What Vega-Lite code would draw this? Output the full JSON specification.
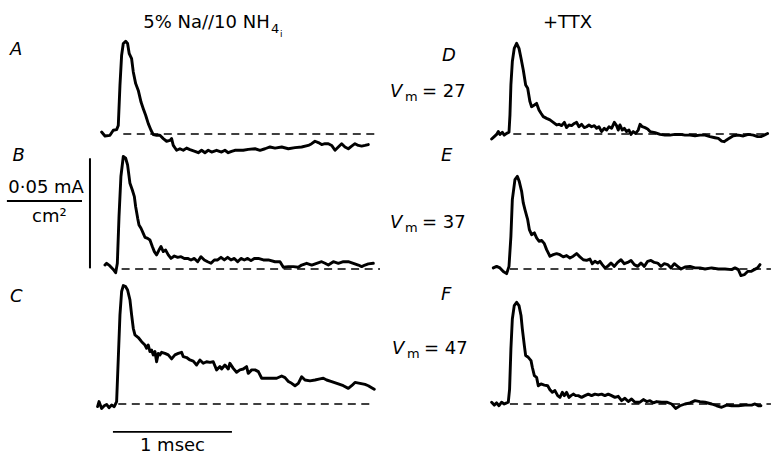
{
  "$schema": "https://vega.github.io/schema/vega-lite/v6.json",
  "background": "white",
  "padding": {"left": 0, "top": 2.8, "right": 0, "bottom": 12},
  "bounds": "flush",
  "config": {"view": {"stroke": null}, "font": "DejaVu Sans"},
  "datasets": {
    "panels": [
      {"panel": "A", "side": "left", "level": 1},
      {"panel": "B", "side": "left", "level": 2},
      {"panel": "C", "side": "left", "level": 3},
      {"panel": "D", "side": "right", "level": 1},
      {"panel": "E", "side": "right", "level": 2},
      {"panel": "F", "side": "right", "level": 3}
    ],
    "records": [
      {"kind": "trace", "panel": "A", "t": 0.014, "i": 0.0009},
      {"kind": "trace", "panel": "A", "t": 0.042, "i": -0.0009},
      {"kind": "trace", "panel": "A", "t": 0.084, "i": -0.0006},
      {"kind": "trace", "panel": "A", "t": 0.112, "i": 0.0017},
      {"kind": "trace", "panel": "A", "t": 0.140, "i": 0.0020},
      {"kind": "trace", "panel": "A", "t": 0.154, "i": 0.0039},
      {"kind": "trace", "panel": "A", "t": 0.168, "i": 0.0221},
      {"kind": "trace", "panel": "A", "t": 0.182, "i": 0.0358},
      {"kind": "trace", "panel": "A", "t": 0.196, "i": 0.0411},
      {"kind": "trace", "panel": "A", "t": 0.216, "i": 0.0421},
      {"kind": "trace", "panel": "A", "t": 0.232, "i": 0.0411},
      {"kind": "trace", "panel": "A", "t": 0.246, "i": 0.0365},
      {"kind": "trace", "panel": "A", "t": 0.266, "i": 0.0342},
      {"kind": "trace", "panel": "A", "t": 0.280, "i": 0.0282},
      {"kind": "trace", "panel": "A", "t": 0.300, "i": 0.0229},
      {"kind": "trace", "panel": "A", "t": 0.322, "i": 0.0198},
      {"kind": "trace", "panel": "A", "t": 0.345, "i": 0.0145},
      {"kind": "trace", "panel": "A", "t": 0.364, "i": 0.0115},
      {"kind": "trace", "panel": "A", "t": 0.384, "i": 0.0085},
      {"kind": "trace", "panel": "A", "t": 0.406, "i": 0.0047},
      {"kind": "trace", "panel": "A", "t": 0.429, "i": 0.0017},
      {"kind": "trace", "panel": "A", "t": 0.448, "i": -0.0003},
      {"kind": "trace", "panel": "A", "t": 0.476, "i": -0.0006},
      {"kind": "trace", "panel": "A", "t": 0.504, "i": -0.0006},
      {"kind": "trace", "panel": "A", "t": 0.532, "i": -0.0021},
      {"kind": "trace", "panel": "A", "t": 0.560, "i": -0.0033},
      {"kind": "trace", "panel": "A", "t": 0.588, "i": -0.0029},
      {"kind": "trace", "panel": "A", "t": 0.602, "i": -0.0021},
      {"kind": "trace", "panel": "A", "t": 0.616, "i": -0.0052},
      {"kind": "trace", "panel": "A", "t": 0.644, "i": -0.0074},
      {"kind": "trace", "panel": "A", "t": 0.672, "i": -0.0067},
      {"kind": "trace", "panel": "A", "t": 0.700, "i": -0.0074},
      {"kind": "trace", "panel": "A", "t": 0.728, "i": -0.0064},
      {"kind": "trace", "panel": "A", "t": 0.756, "i": -0.0071},
      {"kind": "trace", "panel": "A", "t": 0.798, "i": -0.0079},
      {"kind": "trace", "panel": "A", "t": 0.826, "i": -0.0085},
      {"kind": "trace", "panel": "A", "t": 0.854, "i": -0.0074},
      {"kind": "trace", "panel": "A", "t": 0.882, "i": -0.0085},
      {"kind": "trace", "panel": "A", "t": 0.910, "i": -0.0074},
      {"kind": "trace", "panel": "A", "t": 0.938, "i": -0.0082},
      {"kind": "trace", "panel": "A", "t": 0.980, "i": -0.0074},
      {"kind": "trace", "panel": "A", "t": 1.022, "i": -0.0082},
      {"kind": "trace", "panel": "A", "t": 1.050, "i": -0.0074},
      {"kind": "trace", "panel": "A", "t": 1.078, "i": -0.0085},
      {"kind": "trace", "panel": "A", "t": 1.106, "i": -0.0079},
      {"kind": "trace", "panel": "A", "t": 1.134, "i": -0.0074},
      {"kind": "trace", "panel": "A", "t": 1.204, "i": -0.0074},
      {"kind": "trace", "panel": "A", "t": 1.246, "i": -0.0070},
      {"kind": "trace", "panel": "A", "t": 1.303, "i": -0.0067},
      {"kind": "trace", "panel": "A", "t": 1.345, "i": -0.0074},
      {"kind": "trace", "panel": "A", "t": 1.387, "i": -0.0067},
      {"kind": "trace", "panel": "A", "t": 1.429, "i": -0.0059},
      {"kind": "trace", "panel": "A", "t": 1.471, "i": -0.0064},
      {"kind": "trace", "panel": "A", "t": 1.527, "i": -0.0059},
      {"kind": "trace", "panel": "A", "t": 1.583, "i": -0.0067},
      {"kind": "trace", "panel": "A", "t": 1.639, "i": -0.0062},
      {"kind": "trace", "panel": "A", "t": 1.695, "i": -0.0059},
      {"kind": "trace", "panel": "A", "t": 1.751, "i": -0.0052},
      {"kind": "trace", "panel": "A", "t": 1.779, "i": -0.0044},
      {"kind": "trace", "panel": "A", "t": 1.807, "i": -0.0033},
      {"kind": "trace", "panel": "A", "t": 1.835, "i": -0.0039},
      {"kind": "trace", "panel": "A", "t": 1.863, "i": -0.0048},
      {"kind": "trace", "panel": "A", "t": 1.891, "i": -0.0044},
      {"kind": "trace", "panel": "A", "t": 1.919, "i": -0.0044},
      {"kind": "trace", "panel": "A", "t": 1.947, "i": -0.0052},
      {"kind": "trace", "panel": "A", "t": 1.975, "i": -0.0074},
      {"kind": "trace", "panel": "A", "t": 2.003, "i": -0.0059},
      {"kind": "trace", "panel": "A", "t": 2.031, "i": -0.0044},
      {"kind": "trace", "panel": "A", "t": 2.059, "i": -0.0059},
      {"kind": "trace", "panel": "A", "t": 2.087, "i": -0.0067},
      {"kind": "trace", "panel": "A", "t": 2.115, "i": -0.0055},
      {"kind": "trace", "panel": "A", "t": 2.143, "i": -0.0044},
      {"kind": "trace", "panel": "A", "t": 2.171, "i": -0.0052},
      {"kind": "trace", "panel": "A", "t": 2.199, "i": -0.0055},
      {"kind": "trace", "panel": "A", "t": 2.227, "i": -0.0052},
      {"kind": "trace", "panel": "A", "t": 2.255, "i": -0.0048},

      {"kind": "trace", "panel": "B", "t": 0.042, "i": 0.0018},
      {"kind": "trace", "panel": "B", "t": 0.056, "i": 0.0026},
      {"kind": "trace", "panel": "B", "t": 0.084, "i": 0.0014},
      {"kind": "trace", "panel": "B", "t": 0.112, "i": -0.0002},
      {"kind": "trace", "panel": "B", "t": 0.132, "i": -0.0017},
      {"kind": "trace", "panel": "B", "t": 0.146, "i": 0.0026},
      {"kind": "trace", "panel": "B", "t": 0.160, "i": 0.0238},
      {"kind": "trace", "panel": "B", "t": 0.176, "i": 0.0420},
      {"kind": "trace", "panel": "B", "t": 0.196, "i": 0.0511},
      {"kind": "trace", "panel": "B", "t": 0.216, "i": 0.0503},
      {"kind": "trace", "panel": "B", "t": 0.232, "i": 0.0473},
      {"kind": "trace", "panel": "B", "t": 0.252, "i": 0.0389},
      {"kind": "trace", "panel": "B", "t": 0.272, "i": 0.0359},
      {"kind": "trace", "panel": "B", "t": 0.289, "i": 0.0329},
      {"kind": "trace", "panel": "B", "t": 0.300, "i": 0.0283},
      {"kind": "trace", "panel": "B", "t": 0.317, "i": 0.0230},
      {"kind": "trace", "panel": "B", "t": 0.328, "i": 0.0200},
      {"kind": "trace", "panel": "B", "t": 0.345, "i": 0.0185},
      {"kind": "trace", "panel": "B", "t": 0.364, "i": 0.0162},
      {"kind": "trace", "panel": "B", "t": 0.378, "i": 0.0144},
      {"kind": "trace", "panel": "B", "t": 0.401, "i": 0.0139},
      {"kind": "trace", "panel": "B", "t": 0.420, "i": 0.0132},
      {"kind": "trace", "panel": "B", "t": 0.440, "i": 0.0102},
      {"kind": "trace", "panel": "B", "t": 0.457, "i": 0.0079},
      {"kind": "trace", "panel": "B", "t": 0.476, "i": 0.0064},
      {"kind": "trace", "panel": "B", "t": 0.496, "i": 0.0086},
      {"kind": "trace", "panel": "B", "t": 0.513, "i": 0.0102},
      {"kind": "trace", "panel": "B", "t": 0.532, "i": 0.0079},
      {"kind": "trace", "panel": "B", "t": 0.552, "i": 0.0086},
      {"kind": "trace", "panel": "B", "t": 0.574, "i": 0.0064},
      {"kind": "trace", "panel": "B", "t": 0.597, "i": 0.0048},
      {"kind": "trace", "panel": "B", "t": 0.625, "i": 0.0059},
      {"kind": "trace", "panel": "B", "t": 0.653, "i": 0.0053},
      {"kind": "trace", "panel": "B", "t": 0.681, "i": 0.0056},
      {"kind": "trace", "panel": "B", "t": 0.709, "i": 0.0048},
      {"kind": "trace", "panel": "B", "t": 0.737, "i": 0.0048},
      {"kind": "trace", "panel": "B", "t": 0.765, "i": 0.0041},
      {"kind": "trace", "panel": "B", "t": 0.793, "i": 0.0048},
      {"kind": "trace", "panel": "B", "t": 0.821, "i": 0.0033},
      {"kind": "trace", "panel": "B", "t": 0.849, "i": 0.0056},
      {"kind": "trace", "panel": "B", "t": 0.877, "i": 0.0041},
      {"kind": "trace", "panel": "B", "t": 0.905, "i": 0.0033},
      {"kind": "trace", "panel": "B", "t": 0.933, "i": 0.0026},
      {"kind": "trace", "panel": "B", "t": 0.961, "i": 0.0041},
      {"kind": "trace", "panel": "B", "t": 0.989, "i": 0.0041},
      {"kind": "trace", "panel": "B", "t": 1.017, "i": 0.0053},
      {"kind": "trace", "panel": "B", "t": 1.045, "i": 0.0041},
      {"kind": "trace", "panel": "B", "t": 1.073, "i": 0.0053},
      {"kind": "trace", "panel": "B", "t": 1.101, "i": 0.0041},
      {"kind": "trace", "panel": "B", "t": 1.129, "i": 0.0048},
      {"kind": "trace", "panel": "B", "t": 1.157, "i": 0.0033},
      {"kind": "trace", "panel": "B", "t": 1.185, "i": 0.0048},
      {"kind": "trace", "panel": "B", "t": 1.213, "i": 0.0041},
      {"kind": "trace", "panel": "B", "t": 1.241, "i": 0.0048},
      {"kind": "trace", "panel": "B", "t": 1.269, "i": 0.0038},
      {"kind": "trace", "panel": "B", "t": 1.297, "i": 0.0048},
      {"kind": "trace", "panel": "B", "t": 1.331, "i": 0.0048},
      {"kind": "trace", "panel": "B", "t": 1.373, "i": 0.0041},
      {"kind": "trace", "panel": "B", "t": 1.415, "i": 0.0041},
      {"kind": "trace", "panel": "B", "t": 1.471, "i": 0.0033},
      {"kind": "trace", "panel": "B", "t": 1.513, "i": 0.0033},
      {"kind": "trace", "panel": "B", "t": 1.541, "i": 0.0008},
      {"kind": "trace", "panel": "B", "t": 1.583, "i": 0.0011},
      {"kind": "trace", "panel": "B", "t": 1.625, "i": 0.0011},
      {"kind": "trace", "panel": "B", "t": 1.667, "i": 0.0008},
      {"kind": "trace", "panel": "B", "t": 1.695, "i": 0.0018},
      {"kind": "trace", "panel": "B", "t": 1.737, "i": 0.0026},
      {"kind": "trace", "panel": "B", "t": 1.779, "i": 0.0018},
      {"kind": "trace", "panel": "B", "t": 1.821, "i": 0.0026},
      {"kind": "trace", "panel": "B", "t": 1.863, "i": 0.0033},
      {"kind": "trace", "panel": "B", "t": 1.891, "i": 0.0026},
      {"kind": "trace", "panel": "B", "t": 1.919, "i": 0.0018},
      {"kind": "trace", "panel": "B", "t": 1.961, "i": 0.0033},
      {"kind": "trace", "panel": "B", "t": 2.003, "i": 0.0026},
      {"kind": "trace", "panel": "B", "t": 2.045, "i": 0.0033},
      {"kind": "trace", "panel": "B", "t": 2.087, "i": 0.0033},
      {"kind": "trace", "panel": "B", "t": 2.129, "i": 0.0026},
      {"kind": "trace", "panel": "B", "t": 2.171, "i": 0.0018},
      {"kind": "trace", "panel": "B", "t": 2.199, "i": 0.0011},
      {"kind": "trace", "panel": "B", "t": 2.227, "i": 0.0018},
      {"kind": "trace", "panel": "B", "t": 2.255, "i": 0.0023},
      {"kind": "trace", "panel": "B", "t": 2.297, "i": 0.0026},

      {"kind": "trace", "panel": "C", "t": -0.020, "i": -0.0012},
      {"kind": "trace", "panel": "C", "t": -0.008, "i": 0.0011},
      {"kind": "trace", "panel": "C", "t": 0.014, "i": -0.0020},
      {"kind": "trace", "panel": "C", "t": 0.036, "i": -0.0008},
      {"kind": "trace", "panel": "C", "t": 0.056, "i": -0.0002},
      {"kind": "trace", "panel": "C", "t": 0.076, "i": -0.0017},
      {"kind": "trace", "panel": "C", "t": 0.098, "i": -0.0005},
      {"kind": "trace", "panel": "C", "t": 0.120, "i": -0.0012},
      {"kind": "trace", "panel": "C", "t": 0.140, "i": 0.0011},
      {"kind": "trace", "panel": "C", "t": 0.154, "i": 0.0208},
      {"kind": "trace", "panel": "C", "t": 0.168, "i": 0.0405},
      {"kind": "trace", "panel": "C", "t": 0.182, "i": 0.0511},
      {"kind": "trace", "panel": "C", "t": 0.196, "i": 0.0538},
      {"kind": "trace", "panel": "C", "t": 0.216, "i": 0.0533},
      {"kind": "trace", "panel": "C", "t": 0.232, "i": 0.0518},
      {"kind": "trace", "panel": "C", "t": 0.252, "i": 0.0473},
      {"kind": "trace", "panel": "C", "t": 0.266, "i": 0.0405},
      {"kind": "trace", "panel": "C", "t": 0.280, "i": 0.0344},
      {"kind": "trace", "panel": "C", "t": 0.294, "i": 0.0314},
      {"kind": "trace", "panel": "C", "t": 0.322, "i": 0.0302},
      {"kind": "trace", "panel": "C", "t": 0.350, "i": 0.0283},
      {"kind": "trace", "panel": "C", "t": 0.378, "i": 0.0268},
      {"kind": "trace", "panel": "C", "t": 0.392, "i": 0.0253},
      {"kind": "trace", "panel": "C", "t": 0.406, "i": 0.0268},
      {"kind": "trace", "panel": "C", "t": 0.420, "i": 0.0238},
      {"kind": "trace", "panel": "C", "t": 0.434, "i": 0.0245},
      {"kind": "trace", "panel": "C", "t": 0.448, "i": 0.0223},
      {"kind": "trace", "panel": "C", "t": 0.462, "i": 0.0238},
      {"kind": "trace", "panel": "C", "t": 0.476, "i": 0.0192},
      {"kind": "trace", "panel": "C", "t": 0.490, "i": 0.0230},
      {"kind": "trace", "panel": "C", "t": 0.504, "i": 0.0223},
      {"kind": "trace", "panel": "C", "t": 0.518, "i": 0.0235},
      {"kind": "trace", "panel": "C", "t": 0.546, "i": 0.0230},
      {"kind": "trace", "panel": "C", "t": 0.574, "i": 0.0223},
      {"kind": "trace", "panel": "C", "t": 0.602, "i": 0.0205},
      {"kind": "trace", "panel": "C", "t": 0.630, "i": 0.0223},
      {"kind": "trace", "panel": "C", "t": 0.658, "i": 0.0230},
      {"kind": "trace", "panel": "C", "t": 0.686, "i": 0.0235},
      {"kind": "trace", "panel": "C", "t": 0.700, "i": 0.0215},
      {"kind": "trace", "panel": "C", "t": 0.728, "i": 0.0211},
      {"kind": "trace", "panel": "C", "t": 0.756, "i": 0.0200},
      {"kind": "trace", "panel": "C", "t": 0.784, "i": 0.0195},
      {"kind": "trace", "panel": "C", "t": 0.812, "i": 0.0177},
      {"kind": "trace", "panel": "C", "t": 0.840, "i": 0.0200},
      {"kind": "trace", "panel": "C", "t": 0.868, "i": 0.0185},
      {"kind": "trace", "panel": "C", "t": 0.896, "i": 0.0192},
      {"kind": "trace", "panel": "C", "t": 0.924, "i": 0.0189},
      {"kind": "trace", "panel": "C", "t": 0.952, "i": 0.0192},
      {"kind": "trace", "panel": "C", "t": 0.980, "i": 0.0155},
      {"kind": "trace", "panel": "C", "t": 1.008, "i": 0.0170},
      {"kind": "trace", "panel": "C", "t": 1.022, "i": 0.0159},
      {"kind": "trace", "panel": "C", "t": 1.050, "i": 0.0177},
      {"kind": "trace", "panel": "C", "t": 1.078, "i": 0.0159},
      {"kind": "trace", "panel": "C", "t": 1.092, "i": 0.0185},
      {"kind": "trace", "panel": "C", "t": 1.120, "i": 0.0162},
      {"kind": "trace", "panel": "C", "t": 1.148, "i": 0.0144},
      {"kind": "trace", "panel": "C", "t": 1.176, "i": 0.0155},
      {"kind": "trace", "panel": "C", "t": 1.204, "i": 0.0159},
      {"kind": "trace", "panel": "C", "t": 1.232, "i": 0.0170},
      {"kind": "trace", "panel": "C", "t": 1.246, "i": 0.0139},
      {"kind": "trace", "panel": "C", "t": 1.275, "i": 0.0155},
      {"kind": "trace", "panel": "C", "t": 1.303, "i": 0.0155},
      {"kind": "trace", "panel": "C", "t": 1.331, "i": 0.0147},
      {"kind": "trace", "panel": "C", "t": 1.359, "i": 0.0117},
      {"kind": "trace", "panel": "C", "t": 1.401, "i": 0.0117},
      {"kind": "trace", "panel": "C", "t": 1.443, "i": 0.0117},
      {"kind": "trace", "panel": "C", "t": 1.485, "i": 0.0117},
      {"kind": "trace", "panel": "C", "t": 1.527, "i": 0.0127},
      {"kind": "trace", "panel": "C", "t": 1.555, "i": 0.0120},
      {"kind": "trace", "panel": "C", "t": 1.583, "i": 0.0102},
      {"kind": "trace", "panel": "C", "t": 1.611, "i": 0.0094},
      {"kind": "trace", "panel": "C", "t": 1.639, "i": 0.0083},
      {"kind": "trace", "panel": "C", "t": 1.667, "i": 0.0094},
      {"kind": "trace", "panel": "C", "t": 1.695, "i": 0.0124},
      {"kind": "trace", "panel": "C", "t": 1.723, "i": 0.0109},
      {"kind": "trace", "panel": "C", "t": 1.765, "i": 0.0105},
      {"kind": "trace", "panel": "C", "t": 1.807, "i": 0.0109},
      {"kind": "trace", "panel": "C", "t": 1.849, "i": 0.0114},
      {"kind": "trace", "panel": "C", "t": 1.877, "i": 0.0117},
      {"kind": "trace", "panel": "C", "t": 1.905, "i": 0.0109},
      {"kind": "trace", "panel": "C", "t": 1.947, "i": 0.0102},
      {"kind": "trace", "panel": "C", "t": 2.003, "i": 0.0091},
      {"kind": "trace", "panel": "C", "t": 2.045, "i": 0.0083},
      {"kind": "trace", "panel": "C", "t": 2.087, "i": 0.0071},
      {"kind": "trace", "panel": "C", "t": 2.115, "i": 0.0083},
      {"kind": "trace", "panel": "C", "t": 2.143, "i": 0.0098},
      {"kind": "trace", "panel": "C", "t": 2.185, "i": 0.0094},
      {"kind": "trace", "panel": "C", "t": 2.227, "i": 0.0089},
      {"kind": "trace", "panel": "C", "t": 2.255, "i": 0.0083},
      {"kind": "trace", "panel": "C", "t": 2.283, "i": 0.0074},
      {"kind": "trace", "panel": "C", "t": 2.305, "i": 0.0067},

      {"kind": "trace", "panel": "D", "t": 0.014, "i": -0.0023},
      {"kind": "trace", "panel": "D", "t": 0.036, "i": -0.0012},
      {"kind": "trace", "panel": "D", "t": 0.056, "i": -0.0002},
      {"kind": "trace", "panel": "D", "t": 0.070, "i": 0.0011},
      {"kind": "trace", "panel": "D", "t": 0.084, "i": -0.0002},
      {"kind": "trace", "panel": "D", "t": 0.104, "i": 0.0008},
      {"kind": "trace", "panel": "D", "t": 0.120, "i": -0.0005},
      {"kind": "trace", "panel": "D", "t": 0.140, "i": 0.0003},
      {"kind": "trace", "panel": "D", "t": 0.160, "i": 0.0008},
      {"kind": "trace", "panel": "D", "t": 0.168, "i": 0.0086},
      {"kind": "trace", "panel": "D", "t": 0.176, "i": 0.0223},
      {"kind": "trace", "panel": "D", "t": 0.188, "i": 0.0329},
      {"kind": "trace", "panel": "D", "t": 0.204, "i": 0.0389},
      {"kind": "trace", "panel": "D", "t": 0.224, "i": 0.0412},
      {"kind": "trace", "panel": "D", "t": 0.244, "i": 0.0389},
      {"kind": "trace", "panel": "D", "t": 0.261, "i": 0.0344},
      {"kind": "trace", "panel": "D", "t": 0.280, "i": 0.0291},
      {"kind": "trace", "panel": "D", "t": 0.300, "i": 0.0223},
      {"kind": "trace", "panel": "D", "t": 0.317, "i": 0.0208},
      {"kind": "trace", "panel": "D", "t": 0.336, "i": 0.0147},
      {"kind": "trace", "panel": "D", "t": 0.350, "i": 0.0124},
      {"kind": "trace", "panel": "D", "t": 0.373, "i": 0.0132},
      {"kind": "trace", "panel": "D", "t": 0.392, "i": 0.0139},
      {"kind": "trace", "panel": "D", "t": 0.412, "i": 0.0109},
      {"kind": "trace", "panel": "D", "t": 0.429, "i": 0.0094},
      {"kind": "trace", "panel": "D", "t": 0.448, "i": 0.0079},
      {"kind": "trace", "panel": "D", "t": 0.476, "i": 0.0071},
      {"kind": "trace", "panel": "D", "t": 0.504, "i": 0.0064},
      {"kind": "trace", "panel": "D", "t": 0.532, "i": 0.0053},
      {"kind": "trace", "panel": "D", "t": 0.560, "i": 0.0041},
      {"kind": "trace", "panel": "D", "t": 0.580, "i": 0.0044},
      {"kind": "trace", "panel": "D", "t": 0.602, "i": 0.0038},
      {"kind": "trace", "panel": "D", "t": 0.625, "i": 0.0053},
      {"kind": "trace", "panel": "D", "t": 0.644, "i": 0.0029},
      {"kind": "trace", "panel": "D", "t": 0.664, "i": 0.0041},
      {"kind": "trace", "panel": "D", "t": 0.686, "i": 0.0038},
      {"kind": "trace", "panel": "D", "t": 0.709, "i": 0.0048},
      {"kind": "trace", "panel": "D", "t": 0.728, "i": 0.0053},
      {"kind": "trace", "panel": "D", "t": 0.748, "i": 0.0033},
      {"kind": "trace", "panel": "D", "t": 0.770, "i": 0.0044},
      {"kind": "trace", "panel": "D", "t": 0.793, "i": 0.0029},
      {"kind": "trace", "panel": "D", "t": 0.812, "i": 0.0033},
      {"kind": "trace", "panel": "D", "t": 0.832, "i": 0.0041},
      {"kind": "trace", "panel": "D", "t": 0.854, "i": 0.0033},
      {"kind": "trace", "panel": "D", "t": 0.877, "i": 0.0038},
      {"kind": "trace", "panel": "D", "t": 0.896, "i": 0.0026},
      {"kind": "trace", "panel": "D", "t": 0.916, "i": 0.0033},
      {"kind": "trace", "panel": "D", "t": 0.938, "i": 0.0011},
      {"kind": "trace", "panel": "D", "t": 0.961, "i": 0.0026},
      {"kind": "trace", "panel": "D", "t": 0.980, "i": 0.0018},
      {"kind": "trace", "panel": "D", "t": 1.000, "i": 0.0033},
      {"kind": "trace", "panel": "D", "t": 1.022, "i": 0.0026},
      {"kind": "trace", "panel": "D", "t": 1.045, "i": 0.0053},
      {"kind": "trace", "panel": "D", "t": 1.064, "i": 0.0038},
      {"kind": "trace", "panel": "D", "t": 1.078, "i": 0.0018},
      {"kind": "trace", "panel": "D", "t": 1.092, "i": 0.0041},
      {"kind": "trace", "panel": "D", "t": 1.112, "i": 0.0018},
      {"kind": "trace", "panel": "D", "t": 1.129, "i": 0.0026},
      {"kind": "trace", "panel": "D", "t": 1.148, "i": 0.0011},
      {"kind": "trace", "panel": "D", "t": 1.168, "i": 0.0018},
      {"kind": "trace", "panel": "D", "t": 1.185, "i": -0.0002},
      {"kind": "trace", "panel": "D", "t": 1.204, "i": 0.0011},
      {"kind": "trace", "panel": "D", "t": 1.224, "i": 0.0003},
      {"kind": "trace", "panel": "D", "t": 1.246, "i": 0.0018},
      {"kind": "trace", "panel": "D", "t": 1.261, "i": 0.0044},
      {"kind": "trace", "panel": "D", "t": 1.280, "i": 0.0033},
      {"kind": "trace", "panel": "D", "t": 1.303, "i": 0.0029},
      {"kind": "trace", "panel": "D", "t": 1.325, "i": 0.0023},
      {"kind": "trace", "panel": "D", "t": 1.345, "i": 0.0011},
      {"kind": "trace", "panel": "D", "t": 1.387, "i": 0.0006},
      {"kind": "trace", "panel": "D", "t": 1.429, "i": -0.0002},
      {"kind": "trace", "panel": "D", "t": 1.471, "i": -0.0005},
      {"kind": "trace", "panel": "D", "t": 1.513, "i": -0.0005},
      {"kind": "trace", "panel": "D", "t": 1.555, "i": -0.0002},
      {"kind": "trace", "panel": "D", "t": 1.597, "i": -0.0002},
      {"kind": "trace", "panel": "D", "t": 1.639, "i": -0.0005},
      {"kind": "trace", "panel": "D", "t": 1.681, "i": -0.0005},
      {"kind": "trace", "panel": "D", "t": 1.723, "i": -0.0008},
      {"kind": "trace", "panel": "D", "t": 1.765, "i": -0.0005},
      {"kind": "trace", "panel": "D", "t": 1.807, "i": -0.0005},
      {"kind": "trace", "panel": "D", "t": 1.849, "i": -0.0012},
      {"kind": "trace", "panel": "D", "t": 1.891, "i": -0.0017},
      {"kind": "trace", "panel": "D", "t": 1.919, "i": -0.0020},
      {"kind": "trace", "panel": "D", "t": 1.947, "i": -0.0032},
      {"kind": "trace", "panel": "D", "t": 1.969, "i": -0.0035},
      {"kind": "trace", "panel": "D", "t": 1.989, "i": -0.0027},
      {"kind": "trace", "panel": "D", "t": 2.008, "i": -0.0020},
      {"kind": "trace", "panel": "D", "t": 2.045, "i": -0.0008},
      {"kind": "trace", "panel": "D", "t": 2.087, "i": -0.0005},
      {"kind": "trace", "panel": "D", "t": 2.129, "i": -0.0009},
      {"kind": "trace", "panel": "D", "t": 2.171, "i": -0.0002},
      {"kind": "trace", "panel": "D", "t": 2.213, "i": -0.0005},
      {"kind": "trace", "panel": "D", "t": 2.249, "i": -0.0012},
      {"kind": "trace", "panel": "D", "t": 2.277, "i": -0.0012},
      {"kind": "trace", "panel": "D", "t": 2.305, "i": -0.0005},
      {"kind": "trace", "panel": "D", "t": 2.333, "i": 0.0002},

      {"kind": "trace", "panel": "E", "t": 0.028, "i": 0.0005},
      {"kind": "trace", "panel": "E", "t": 0.056, "i": 0.0012},
      {"kind": "trace", "panel": "E", "t": 0.084, "i": 0.0005},
      {"kind": "trace", "panel": "E", "t": 0.112, "i": -0.0011},
      {"kind": "trace", "panel": "E", "t": 0.140, "i": -0.0021},
      {"kind": "trace", "panel": "E", "t": 0.160, "i": 0.0012},
      {"kind": "trace", "panel": "E", "t": 0.176, "i": 0.0148},
      {"kind": "trace", "panel": "E", "t": 0.188, "i": 0.0315},
      {"kind": "trace", "panel": "E", "t": 0.210, "i": 0.0406},
      {"kind": "trace", "panel": "E", "t": 0.230, "i": 0.0421},
      {"kind": "trace", "panel": "E", "t": 0.246, "i": 0.0398},
      {"kind": "trace", "panel": "E", "t": 0.266, "i": 0.0353},
      {"kind": "trace", "panel": "E", "t": 0.280, "i": 0.0300},
      {"kind": "trace", "panel": "E", "t": 0.294, "i": 0.0270},
      {"kind": "trace", "panel": "E", "t": 0.317, "i": 0.0224},
      {"kind": "trace", "panel": "E", "t": 0.331, "i": 0.0179},
      {"kind": "trace", "panel": "E", "t": 0.350, "i": 0.0156},
      {"kind": "trace", "panel": "E", "t": 0.373, "i": 0.0164},
      {"kind": "trace", "panel": "E", "t": 0.392, "i": 0.0141},
      {"kind": "trace", "panel": "E", "t": 0.412, "i": 0.0126},
      {"kind": "trace", "panel": "E", "t": 0.434, "i": 0.0130},
      {"kind": "trace", "panel": "E", "t": 0.457, "i": 0.0115},
      {"kind": "trace", "panel": "E", "t": 0.476, "i": 0.0088},
      {"kind": "trace", "panel": "E", "t": 0.504, "i": 0.0058},
      {"kind": "trace", "panel": "E", "t": 0.532, "i": 0.0065},
      {"kind": "trace", "panel": "E", "t": 0.560, "i": 0.0070},
      {"kind": "trace", "panel": "E", "t": 0.588, "i": 0.0065},
      {"kind": "trace", "panel": "E", "t": 0.616, "i": 0.0055},
      {"kind": "trace", "panel": "E", "t": 0.644, "i": 0.0061},
      {"kind": "trace", "panel": "E", "t": 0.672, "i": 0.0050},
      {"kind": "trace", "panel": "E", "t": 0.700, "i": 0.0058},
      {"kind": "trace", "panel": "E", "t": 0.728, "i": 0.0070},
      {"kind": "trace", "panel": "E", "t": 0.756, "i": 0.0055},
      {"kind": "trace", "panel": "E", "t": 0.784, "i": 0.0042},
      {"kind": "trace", "panel": "E", "t": 0.812, "i": 0.0039},
      {"kind": "trace", "panel": "E", "t": 0.840, "i": 0.0045},
      {"kind": "trace", "panel": "E", "t": 0.860, "i": 0.0024},
      {"kind": "trace", "panel": "E", "t": 0.882, "i": 0.0035},
      {"kind": "trace", "panel": "E", "t": 0.905, "i": 0.0027},
      {"kind": "trace", "panel": "E", "t": 0.924, "i": 0.0035},
      {"kind": "trace", "panel": "E", "t": 0.944, "i": 0.0020},
      {"kind": "trace", "panel": "E", "t": 0.966, "i": 0.0005},
      {"kind": "trace", "panel": "E", "t": 0.989, "i": 0.0012},
      {"kind": "trace", "panel": "E", "t": 1.017, "i": 0.0027},
      {"kind": "trace", "panel": "E", "t": 1.045, "i": 0.0012},
      {"kind": "trace", "panel": "E", "t": 1.073, "i": 0.0030},
      {"kind": "trace", "panel": "E", "t": 1.101, "i": 0.0042},
      {"kind": "trace", "panel": "E", "t": 1.129, "i": 0.0024},
      {"kind": "trace", "panel": "E", "t": 1.157, "i": 0.0030},
      {"kind": "trace", "panel": "E", "t": 1.185, "i": 0.0039},
      {"kind": "trace", "panel": "E", "t": 1.213, "i": 0.0020},
      {"kind": "trace", "panel": "E", "t": 1.241, "i": 0.0012},
      {"kind": "trace", "panel": "E", "t": 1.269, "i": 0.0027},
      {"kind": "trace", "panel": "E", "t": 1.297, "i": 0.0012},
      {"kind": "trace", "panel": "E", "t": 1.325, "i": 0.0035},
      {"kind": "trace", "panel": "E", "t": 1.353, "i": 0.0039},
      {"kind": "trace", "panel": "E", "t": 1.381, "i": 0.0030},
      {"kind": "trace", "panel": "E", "t": 1.409, "i": 0.0027},
      {"kind": "trace", "panel": "E", "t": 1.437, "i": 0.0012},
      {"kind": "trace", "panel": "E", "t": 1.465, "i": 0.0024},
      {"kind": "trace", "panel": "E", "t": 1.493, "i": 0.0020},
      {"kind": "trace", "panel": "E", "t": 1.521, "i": 0.0005},
      {"kind": "trace", "panel": "E", "t": 1.549, "i": 0.0024},
      {"kind": "trace", "panel": "E", "t": 1.577, "i": 0.0012},
      {"kind": "trace", "panel": "E", "t": 1.605, "i": 0.0000},
      {"kind": "trace", "panel": "E", "t": 1.639, "i": 0.0009},
      {"kind": "trace", "panel": "E", "t": 1.681, "i": 0.0012},
      {"kind": "trace", "panel": "E", "t": 1.723, "i": 0.0005},
      {"kind": "trace", "panel": "E", "t": 1.765, "i": 0.0005},
      {"kind": "trace", "panel": "E", "t": 1.807, "i": 0.0000},
      {"kind": "trace", "panel": "E", "t": 1.863, "i": 0.0005},
      {"kind": "trace", "panel": "E", "t": 1.919, "i": 0.0000},
      {"kind": "trace", "panel": "E", "t": 1.975, "i": 0.0000},
      {"kind": "trace", "panel": "E", "t": 2.031, "i": -0.0003},
      {"kind": "trace", "panel": "E", "t": 2.059, "i": 0.0005},
      {"kind": "trace", "panel": "E", "t": 2.087, "i": -0.0003},
      {"kind": "trace", "panel": "E", "t": 2.109, "i": -0.0030},
      {"kind": "trace", "panel": "E", "t": 2.137, "i": -0.0026},
      {"kind": "trace", "panel": "E", "t": 2.165, "i": -0.0011},
      {"kind": "trace", "panel": "E", "t": 2.193, "i": -0.0011},
      {"kind": "trace", "panel": "E", "t": 2.221, "i": -0.0003},
      {"kind": "trace", "panel": "E", "t": 2.249, "i": 0.0005},
      {"kind": "trace", "panel": "E", "t": 2.269, "i": 0.0020},

      {"kind": "trace", "panel": "F", "t": 0.014, "i": 0.0008},
      {"kind": "trace", "panel": "F", "t": 0.036, "i": -0.0005},
      {"kind": "trace", "panel": "F", "t": 0.056, "i": 0.0005},
      {"kind": "trace", "panel": "F", "t": 0.076, "i": -0.0008},
      {"kind": "trace", "panel": "F", "t": 0.098, "i": 0.0008},
      {"kind": "trace", "panel": "F", "t": 0.120, "i": 0.0000},
      {"kind": "trace", "panel": "F", "t": 0.140, "i": 0.0005},
      {"kind": "trace", "panel": "F", "t": 0.154, "i": 0.0008},
      {"kind": "trace", "panel": "F", "t": 0.165, "i": 0.0068},
      {"kind": "trace", "panel": "F", "t": 0.176, "i": 0.0250},
      {"kind": "trace", "panel": "F", "t": 0.188, "i": 0.0386},
      {"kind": "trace", "panel": "F", "t": 0.204, "i": 0.0447},
      {"kind": "trace", "panel": "F", "t": 0.224, "i": 0.0462},
      {"kind": "trace", "panel": "F", "t": 0.244, "i": 0.0447},
      {"kind": "trace", "panel": "F", "t": 0.261, "i": 0.0402},
      {"kind": "trace", "panel": "F", "t": 0.272, "i": 0.0341},
      {"kind": "trace", "panel": "F", "t": 0.289, "i": 0.0265},
      {"kind": "trace", "panel": "F", "t": 0.300, "i": 0.0220},
      {"kind": "trace", "panel": "F", "t": 0.322, "i": 0.0212},
      {"kind": "trace", "panel": "F", "t": 0.345, "i": 0.0197},
      {"kind": "trace", "panel": "F", "t": 0.356, "i": 0.0167},
      {"kind": "trace", "panel": "F", "t": 0.373, "i": 0.0129},
      {"kind": "trace", "panel": "F", "t": 0.392, "i": 0.0121},
      {"kind": "trace", "panel": "F", "t": 0.406, "i": 0.0083},
      {"kind": "trace", "panel": "F", "t": 0.429, "i": 0.0091},
      {"kind": "trace", "panel": "F", "t": 0.457, "i": 0.0086},
      {"kind": "trace", "panel": "F", "t": 0.485, "i": 0.0083},
      {"kind": "trace", "panel": "F", "t": 0.504, "i": 0.0065},
      {"kind": "trace", "panel": "F", "t": 0.524, "i": 0.0053},
      {"kind": "trace", "panel": "F", "t": 0.546, "i": 0.0061},
      {"kind": "trace", "panel": "F", "t": 0.569, "i": 0.0038},
      {"kind": "trace", "panel": "F", "t": 0.588, "i": 0.0030},
      {"kind": "trace", "panel": "F", "t": 0.608, "i": 0.0053},
      {"kind": "trace", "panel": "F", "t": 0.625, "i": 0.0038},
      {"kind": "trace", "panel": "F", "t": 0.644, "i": 0.0053},
      {"kind": "trace", "panel": "F", "t": 0.664, "i": 0.0030},
      {"kind": "trace", "panel": "F", "t": 0.681, "i": 0.0038},
      {"kind": "trace", "panel": "F", "t": 0.700, "i": 0.0045},
      {"kind": "trace", "panel": "F", "t": 0.720, "i": 0.0038},
      {"kind": "trace", "panel": "F", "t": 0.742, "i": 0.0038},
      {"kind": "trace", "panel": "F", "t": 0.770, "i": 0.0030},
      {"kind": "trace", "panel": "F", "t": 0.798, "i": 0.0038},
      {"kind": "trace", "panel": "F", "t": 0.826, "i": 0.0045},
      {"kind": "trace", "panel": "F", "t": 0.854, "i": 0.0038},
      {"kind": "trace", "panel": "F", "t": 0.882, "i": 0.0045},
      {"kind": "trace", "panel": "F", "t": 0.910, "i": 0.0041},
      {"kind": "trace", "panel": "F", "t": 0.938, "i": 0.0045},
      {"kind": "trace", "panel": "F", "t": 0.966, "i": 0.0038},
      {"kind": "trace", "panel": "F", "t": 0.994, "i": 0.0045},
      {"kind": "trace", "panel": "F", "t": 1.022, "i": 0.0038},
      {"kind": "trace", "panel": "F", "t": 1.050, "i": 0.0030},
      {"kind": "trace", "panel": "F", "t": 1.078, "i": 0.0035},
      {"kind": "trace", "panel": "F", "t": 1.106, "i": 0.0015},
      {"kind": "trace", "panel": "F", "t": 1.134, "i": 0.0026},
      {"kind": "trace", "panel": "F", "t": 1.162, "i": 0.0011},
      {"kind": "trace", "panel": "F", "t": 1.190, "i": 0.0023},
      {"kind": "trace", "panel": "F", "t": 1.218, "i": 0.0008},
      {"kind": "trace", "panel": "F", "t": 1.261, "i": 0.0008},
      {"kind": "trace", "panel": "F", "t": 1.289, "i": 0.0020},
      {"kind": "trace", "panel": "F", "t": 1.317, "i": 0.0011},
      {"kind": "trace", "panel": "F", "t": 1.345, "i": 0.0015},
      {"kind": "trace", "panel": "F", "t": 1.373, "i": 0.0005},
      {"kind": "trace", "panel": "F", "t": 1.401, "i": 0.0011},
      {"kind": "trace", "panel": "F", "t": 1.443, "i": 0.0008},
      {"kind": "trace", "panel": "F", "t": 1.485, "i": 0.0008},
      {"kind": "trace", "panel": "F", "t": 1.527, "i": 0.0000},
      {"kind": "trace", "panel": "F", "t": 1.560, "i": -0.0020},
      {"kind": "trace", "panel": "F", "t": 1.597, "i": -0.0008},
      {"kind": "trace", "panel": "F", "t": 1.639, "i": 0.0000},
      {"kind": "trace", "panel": "F", "t": 1.681, "i": 0.0005},
      {"kind": "trace", "panel": "F", "t": 1.723, "i": 0.0015},
      {"kind": "trace", "panel": "F", "t": 1.765, "i": 0.0011},
      {"kind": "trace", "panel": "F", "t": 1.807, "i": 0.0008},
      {"kind": "trace", "panel": "F", "t": 1.863, "i": 0.0000},
      {"kind": "trace", "panel": "F", "t": 1.905, "i": -0.0008},
      {"kind": "trace", "panel": "F", "t": 1.947, "i": -0.0015},
      {"kind": "trace", "panel": "F", "t": 1.989, "i": -0.0005},
      {"kind": "trace", "panel": "F", "t": 2.031, "i": -0.0008},
      {"kind": "trace", "panel": "F", "t": 2.087, "i": -0.0008},
      {"kind": "trace", "panel": "F", "t": 2.143, "i": -0.0005},
      {"kind": "trace", "panel": "F", "t": 2.199, "i": -0.0005},
      {"kind": "trace", "panel": "F", "t": 2.227, "i": 0.0000},
      {"kind": "trace", "panel": "F", "t": 2.255, "i": -0.0008},
      {"kind": "trace", "panel": "F", "t": 2.277, "i": -0.0008},

      {"kind": "base", "panel": "A", "t": 0.196, "t2": 2.333},
      {"kind": "base", "panel": "B", "t": 0.182, "t2": 2.353},
      {"kind": "base", "panel": "C", "t": 0.154, "t2": 2.297},
      {"kind": "base", "panel": "D", "t": 0.196, "t2": 2.333},
      {"kind": "base", "panel": "E", "t": 0.168, "t2": 2.361},
      {"kind": "base", "panel": "F", "t": 0.168, "t2": 2.361},

      {"kind": "vbar", "panel": "B", "t": -0.084, "i": 0.0003, "i2": 0.0503},
      {"kind": "hbar", "panel": "C", "t": 0.109, "t2": 1.109, "i": -0.0127},
      {"kind": "hbar", "panel": "B", "t": -0.782, "t2": -0.151, "i": 0.0309},

      {"kind": "ital", "panel": "A", "t": -0.756, "i": 0.0359, "text": "A"},
      {"kind": "ital", "panel": "B", "t": -0.734, "i": 0.0492, "text": "B"},
      {"kind": "ital", "panel": "C", "t": -0.756, "i": 0.0465, "text": "C"},
      {"kind": "ital", "panel": "D", "t": -0.403, "i": 0.0333, "text": "D"},
      {"kind": "ital", "panel": "E", "t": -0.412, "i": 0.0492, "text": "E"},
      {"kind": "ital", "panel": "F", "t": -0.412, "i": 0.0471, "text": "F"},
      {"kind": "ital", "panel": "D", "t": -0.840, "i": 0.0170, "text": "V"},
      {"kind": "ital", "panel": "E", "t": -0.840, "i": 0.0185, "text": "V"},
      {"kind": "ital", "panel": "F", "t": -0.824, "i": 0.0226, "text": "V"},

      {"kind": "sub", "panel": "D", "t": -0.714, "i": 0.0152, "text": "m"},
      {"kind": "sub", "panel": "E", "t": -0.714, "i": 0.0167, "text": "m"},
      {"kind": "sub", "panel": "F", "t": -0.697, "i": 0.0208, "text": "m"},
      {"kind": "sub", "panel": "A", "t": 1.437, "i": 0.0458, "text": "4"},
      {"kind": "subi", "panel": "A", "t": 1.512, "i": 0.0442, "text": "i"},

      {"kind": "note", "panel": "A", "t": 0.364, "i": 0.0480, "text": "5% Na//10 NH"},
      {"kind": "note", "panel": "D", "t": 0.445, "i": 0.0480, "text": "+TTX"},
      {"kind": "note", "panel": "D", "t": -0.571, "i": 0.0170, "text": "= 27"},
      {"kind": "note", "panel": "E", "t": -0.571, "i": 0.0185, "text": "= 37"},
      {"kind": "note", "panel": "F", "t": -0.555, "i": 0.0226, "text": "= 47"},
      {"kind": "note", "panel": "B", "t": -0.770, "i": 0.0347, "text": "0·05 mA"},
      {"kind": "note", "panel": "B", "t": -0.571, "i": 0.0215, "text": "cm²"},
      {"kind": "note", "panel": "C", "t": 0.336, "i": -0.0213, "text": "1 msec"}
    ]
  },
  "data": {"name": "records"},
  "transform": [
    {"lookup": "panel", "from": {"data": {"name": "panels"}, "key": "panel", "fields": ["side", "level"]}}
  ],
  "facet": {
    "row": {"field": "level", "type": "ordinal", "header": null},
    "column": {"field": "side", "type": "nominal", "header": null, "sort": ["left", "right"]}
  },
  "spacing": {"row": 0, "column": 8},
  "spec": {
    "width": 382,
    "height": 134.5,
    "layer": [
      {
        "transform": [{"filter": "datum.kind === 'trace'"}],
        "mark": {"type": "line", "color": "black", "strokeWidth": 2.9, "strokeJoin": "round", "strokeCap": "round", "interpolate": "linear"},
        "encoding": {
          "x": {"field": "t", "type": "quantitative", "scale": {"domain": [-0.84, 2.37], "nice": false, "zero": false}, "axis": null},
          "y": {"field": "i", "type": "quantitative", "scale": {"domain": [-0.0015, 0.0596], "nice": false, "zero": false}, "axis": null}
        }
      },
      {
        "transform": [{"filter": "datum.kind === 'base'"}],
        "mark": {"type": "rule", "color": "black", "strokeWidth": 1.3, "strokeDash": [8, 5.5]},
        "encoding": {
          "x": {"field": "t", "type": "quantitative"},
          "x2": {"field": "t2"},
          "y": {"datum": 0, "type": "quantitative"}
        }
      },
      {
        "transform": [{"filter": "datum.kind === 'vbar'"}],
        "mark": {"type": "rule", "color": "black", "strokeWidth": 2},
        "encoding": {
          "x": {"field": "t", "type": "quantitative"},
          "y": {"field": "i", "type": "quantitative"},
          "y2": {"field": "i2"}
        }
      },
      {
        "transform": [{"filter": "datum.kind === 'hbar'"}],
        "mark": {"type": "rule", "color": "black", "strokeWidth": 1.8},
        "encoding": {
          "x": {"field": "t", "type": "quantitative"},
          "x2": {"field": "t2"},
          "y": {"field": "i", "type": "quantitative"}
        }
      },
      {
        "transform": [{"filter": "datum.kind === 'ital'"}],
        "mark": {"type": "text", "font": "DejaVu Sans", "fontSize": 18, "fontStyle": "italic", "align": "left", "baseline": "alphabetic", "color": "black"},
        "encoding": {
          "x": {"field": "t", "type": "quantitative"},
          "y": {"field": "i", "type": "quantitative"},
          "text": {"field": "text"}
        }
      },
      {
        "transform": [{"filter": "datum.kind === 'sub'"}],
        "mark": {"type": "text", "font": "DejaVu Sans", "fontSize": 13, "align": "left", "baseline": "alphabetic", "color": "black"},
        "encoding": {
          "x": {"field": "t", "type": "quantitative"},
          "y": {"field": "i", "type": "quantitative"},
          "text": {"field": "text"}
        }
      },
      {
        "transform": [{"filter": "datum.kind === 'subi'"}],
        "mark": {"type": "text", "font": "DejaVu Sans", "fontSize": 9, "align": "left", "baseline": "alphabetic", "color": "black"},
        "encoding": {
          "x": {"field": "t", "type": "quantitative"},
          "y": {"field": "i", "type": "quantitative"},
          "text": {"field": "text"}
        }
      },
      {
        "transform": [{"filter": "datum.kind === 'note'"}],
        "mark": {"type": "text", "font": "DejaVu Sans", "fontSize": 18, "align": "left", "baseline": "alphabetic", "color": "black"},
        "encoding": {
          "x": {"field": "t", "type": "quantitative"},
          "y": {"field": "i", "type": "quantitative"},
          "text": {"field": "text"}
        }
      }
    ]
  }
}
